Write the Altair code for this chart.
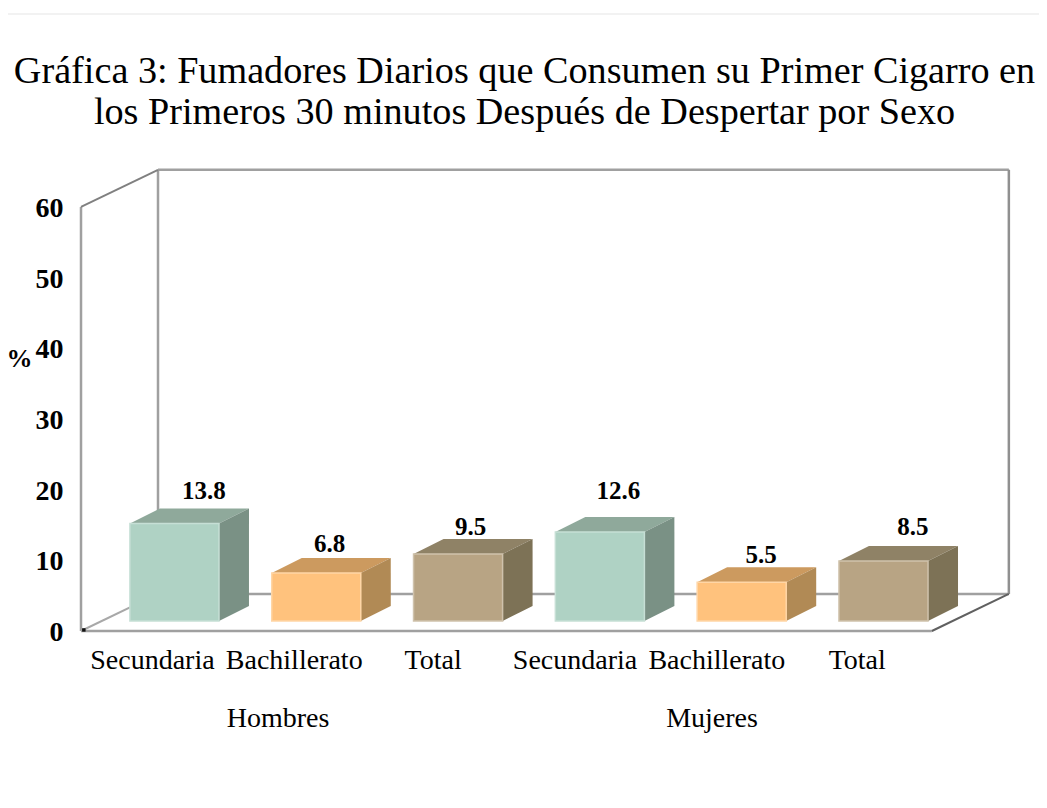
import altair as alt
import pandas as pd

title_lines = ["Gráfica 3: Fumadores Diarios que Consumen su Primer Cigarro en",
               "los Primeros 30 minutos Después de Despertar por Sexo"]
categories = ["Secundaria", "Bachillerato", "Total", "Secundaria", "Bachillerato", "Total"]
category_pos = [0.5, 1.5, 2.48, 3.48, 4.48, 5.47]
values = [13.8, 6.8, 9.5, 12.6, 5.5, 8.5]
value_text = ["13.8", "6.8", "9.5", "12.6", "5.5", "8.5"]
groups = ["Hombres", "Mujeres"]
group_x = [1.39, 4.45]
y_ticks = [0, 10, 20, 30, 40, 50, 60]

front_colors = ["#AFD2C4", "#FFC27D", "#B8A484"] * 2
top_colors = ["#8FA99B", "#CC9A5F", "#8F8266"] * 2
side_colors = ["#7A9185", "#B18A55", "#7D7256"] * 2
edge_colors = ["#C6DFD5", "#FFD6A6", "#CFC2AC"] * 2

label_shift_x = [0.522, 0.409, 0.402, 0.444, 0.451, 0.522]
label_shift_y = [6.0, 5.5, 5.2, 7.2, 5.3, 6.2]

# projection of the box, in axis units
N_X = 6.537
Y_MAX = 65.5
FLOOR_DX, FLOOR_DY = 0.543, 5.24
BAR_DX, BAR_DY = 0.2115, 2.12
BAR_LEFT, BAR_W, BAR_BASE = 0.345, 0.628, 1.41

xs = alt.Scale(domain=[0, N_X], nice=False, zero=False)
ys = alt.Scale(domain=[0, Y_MAX], nice=False, zero=False)

walls = pd.DataFrame(
    [
        (0, 60, 0, 0, "#a0a0a0", 2.5),
        (FLOOR_DX, 60 + FLOOR_DY, FLOOR_DX, FLOOR_DY, "#a0a0a0", 2.5),
        (FLOOR_DX, 60 + FLOOR_DY, 6 + FLOOR_DX, 60 + FLOOR_DY, "#a0a0a0", 2.5),
        (6 + FLOOR_DX, 60 + FLOOR_DY, 6 + FLOOR_DX, FLOOR_DY, "#909090", 2.5),
        (FLOOR_DX, FLOOR_DY, 6 + FLOOR_DX, FLOOR_DY, "#a0a0a0", 2.5),
        (0, 0, 6, 0, "#a0a0a0", 2.5),
        (0, 60, FLOOR_DX, 60 + FLOOR_DY, "#808080", 2),
        (0, 0, FLOOR_DX, FLOOR_DY, "#a8a8a8", 2),
        (6, 0, 6 + FLOOR_DX, FLOOR_DY, "#606060", 2),
    ],
    columns=["x", "y", "x2", "y2", "c", "w"],
)

fronts, areas, labels = [], [], []
for i, v in enumerate(values):
    x0 = i + BAR_LEFT
    x1 = x0 + BAR_W
    top = BAR_BASE + v
    fronts.append(dict(x=x0, x2=x1, y=BAR_BASE, y2=top, fill=front_colors[i], edge=edge_colors[i]))
    tid, sid = f"t{i}", f"s{i}"
    for ax, ay, ay2 in [
        (x0, top, top),
        (x0 + BAR_DX, top, top + BAR_DY),
        (x1, top, top + BAR_DY),
        (x1 + BAR_DX, top + BAR_DY, top + BAR_DY),
    ]:
        areas.append(dict(face=tid, x=ax, y=ay, y2=ay2, fill=top_colors[i]))
    for ax, ay, ay2 in [
        (x1, BAR_BASE, top),
        (x1 + BAR_DX, BAR_BASE + BAR_DY, top + BAR_DY),
    ]:
        areas.append(dict(face=sid, x=ax, y=ay, y2=ay2, fill=side_colors[i]))
    labels.append(dict(x=x0 + label_shift_x[i], y=v + label_shift_y[i], t=value_text[i]))

fronts = pd.DataFrame(fronts)
areas = pd.DataFrame(areas)
labels = pd.DataFrame(labels)
group_df = pd.DataFrame({"x": group_x, "y": [-12.4, -12.4], "t": groups})

FONT = "Liberation Serif"
cat_js = "[" + ",".join(f"'{c}'" for c in categories) + "]"

base_axes = alt.Chart(pd.DataFrame({"x": [0.5], "y": [0]})).mark_point(opacity=0).encode(
    x=alt.X("x:Q", scale=xs, axis=alt.Axis(
        title=None, values=category_pos, grid=False, domain=False, ticks=False,
        labelExpr=f"{cat_js}[floor(datum.value)]", labelFont=FONT, labelFontSize=28,
        labelColor="#000", labelPadding=15, labelOverlap=False, labelFlush=False, labelBound=False)),
    y=alt.Y("y:Q", scale=ys, axis=alt.Axis(
        title="%", titleAngle=0, titleX=-62, titleY=190, titleFont=FONT, titleFontSize=26,
        titleFontWeight="bold", titleColor="#000", titleAlign="center", titleBaseline="middle",
        values=y_ticks, grid=False, domain=False, ticks=False, labelFont=FONT, labelFontSize=28,
        labelFontWeight="bold", labelColor="#000", labelPadding=18, labelOffset=1.5, format="d")),
)

wall_layer = alt.Chart(walls).mark_rule().encode(
    x=alt.X("x:Q", scale=xs), x2="x2:Q", y=alt.Y("y:Q", scale=ys), y2="y2:Q",
    color=alt.Color("c:N", scale=None), strokeWidth=alt.StrokeWidth("w:Q", scale=None),
)

top_rule = alt.Chart(pd.DataFrame({"a": [0]})).mark_rule(color="#eeeeee", strokeWidth=1.5).encode(
    x=alt.value(-73), x2=alt.value(958), y=alt.value(-154))

corner = alt.Chart(pd.DataFrame({"x": [0.02], "y": [0.15]})).mark_square(size=12, color="#111111", opacity=1).encode(
    x=alt.X("x:Q", scale=xs), y=alt.Y("y:Q", scale=ys))

area_layer = alt.Chart(areas).mark_area(opacity=1, interpolate="linear").encode(
    x=alt.X("x:Q", scale=xs), y=alt.Y("y:Q", scale=ys), y2="y2:Q",
    detail="face:N", color=alt.Color("fill:N", scale=None),
)

front_layer = alt.Chart(fronts).mark_rect(strokeWidth=1.5).encode(
    x=alt.X("x:Q", scale=xs), x2="x2:Q", y=alt.Y("y:Q", scale=ys), y2="y2:Q",
    color=alt.Color("fill:N", scale=None), stroke=alt.Stroke("edge:N", scale=None),
)

label_layer = alt.Chart(labels).mark_text(font=FONT, fontSize=25, fontWeight="bold", color="#000").encode(
    x=alt.X("x:Q", scale=xs), y=alt.Y("y:Q", scale=ys), text="t:N")

group_layer = alt.Chart(group_df).mark_text(font=FONT, fontSize=28, color="#000").encode(
    x=alt.X("x:Q", scale=xs), y=alt.Y("y:Q", scale=ys), text="t:N")

chart = alt.layer(
    base_axes, top_rule, wall_layer, corner, area_layer, front_layer, label_layer, group_layer
).properties(
    width=927, height=463,
    padding={"left": 73, "top": 160, "right": 31, "bottom": 169},
    autosize=alt.AutoSizeParams(type="none"),
    title=alt.TitleParams(text=title_lines, font=FONT, fontSize=38.2, fontWeight="normal", color="#000",
                          anchor="middle", dx=-20, dy=119, offset=0, lineHeight=41),
).configure_view(stroke=None)

chart.save("out.html", embed_options={"renderer": "svg", "actions": False})
